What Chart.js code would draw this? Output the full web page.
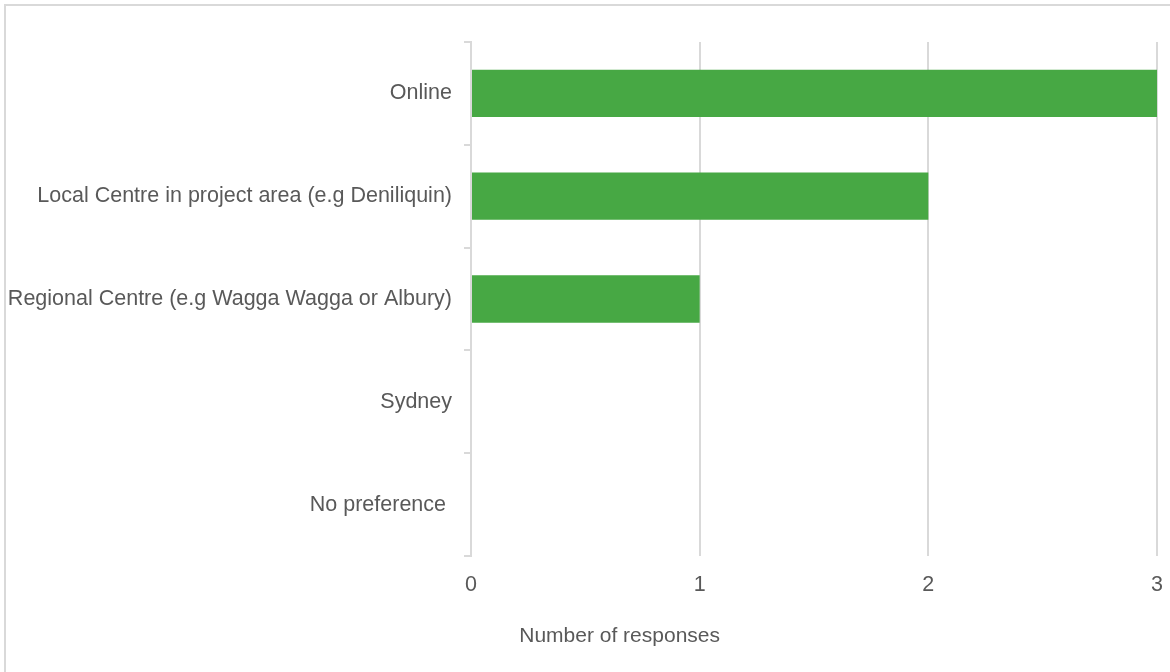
<!DOCTYPE html>
<html>
<head>
<meta charset="utf-8">
<script src="https://cdn.jsdelivr.net/npm/chart.js@4/dist/chart.umd.min.js"></script>
<style>
  html, body { margin: 0; padding: 0; background: #fff; }
  #wrap { position: absolute; left: 0; top: 0; width: 1170px; height: 672px; }
</style>
</head>
<body>
<div id="wrap"><canvas id="c" width="1170" height="672"></canvas></div>
<script>
const categories = [
  "Online",
  "Local Centre in project area (e.g Deniliquin)",
  "Regional Centre (e.g Wagga Wagga or Albury)",
  "Sydney",
  "No preference "
];
const responses = [3, 2, 1, 0, 0];
const xTicks = [0, 1, 2, 3];
const axisTitle = "Number of responses";

const FONT = "'Liberation Sans', Arial, sans-serif";
const TEXT = "#595959";
const GRID = "#d9d9d9";

const framePlugin = {
  id: 'frame',
  beforeDraw(chart) {
    const ctx = chart.ctx;
    ctx.save();
    ctx.fillStyle = '#fff';
    ctx.fillRect(0, 0, chart.width, chart.height);
    ctx.strokeStyle = GRID;
    ctx.lineWidth = 2;
    ctx.beginPath();
    ctx.moveTo(5, 700);
    ctx.lineTo(5, 5);
    ctx.lineTo(1200, 5);
    ctx.stroke();
    ctx.restore();
  },
  afterDraw(chart) {
    const ctx = chart.ctx;
    const x = chart.scales.x;
    ctx.save();
    ctx.fillStyle = TEXT;
    ctx.font = "21px " + FONT;
    ctx.textAlign = 'center';
    ctx.textBaseline = 'middle';
    ctx.fillText(axisTitle, x.getPixelForValue(0.65), 636);
    ctx.restore();
  }
};

new Chart(document.getElementById('c'), {
  type: 'bar',
  data: {
    labels: categories,
    datasets: [{
      data: responses,
      backgroundColor: '#47a844',
      borderWidth: 0,
      categoryPercentage: 1,
      barPercentage: 0.46
    }]
  },
  options: {
    indexAxis: 'y',
    responsive: false,
    animation: false,
    devicePixelRatio: 1,
    layout: { padding: { left: 0, top: 42, right: 13, bottom: 0 } },
    plugins: { legend: { display: false }, tooltip: { enabled: false }, title: { display: false } },
    scales: {
      x: {
        min: 0, max: 3,
        afterBuildTicks(scale) { scale.ticks = xTicks.map(v => ({ value: v })); },
        afterFit(scale) { scale.height = 116; scale.paddingRight = 0; },
        grid: { color: GRID, lineWidth: 2, drawTicks: false },
        border: { display: false },
        ticks: { color: TEXT, font: { family: FONT, size: 21.5 }, padding: 16, maxRotation: 0 }
      },
      y: {
        afterFit(scale) { scale.width = 471; },
        grid: { display: true, drawOnChartArea: false, color: GRID, lineWidth: 2, tickLength: 7 },
        border: { display: true, color: GRID, width: 2 },
        ticks: { color: TEXT, font: { family: FONT, size: 21.5 }, padding: 12 }
      }
    }
  },
  plugins: [framePlugin]
});
</script>
</body>
</html>
